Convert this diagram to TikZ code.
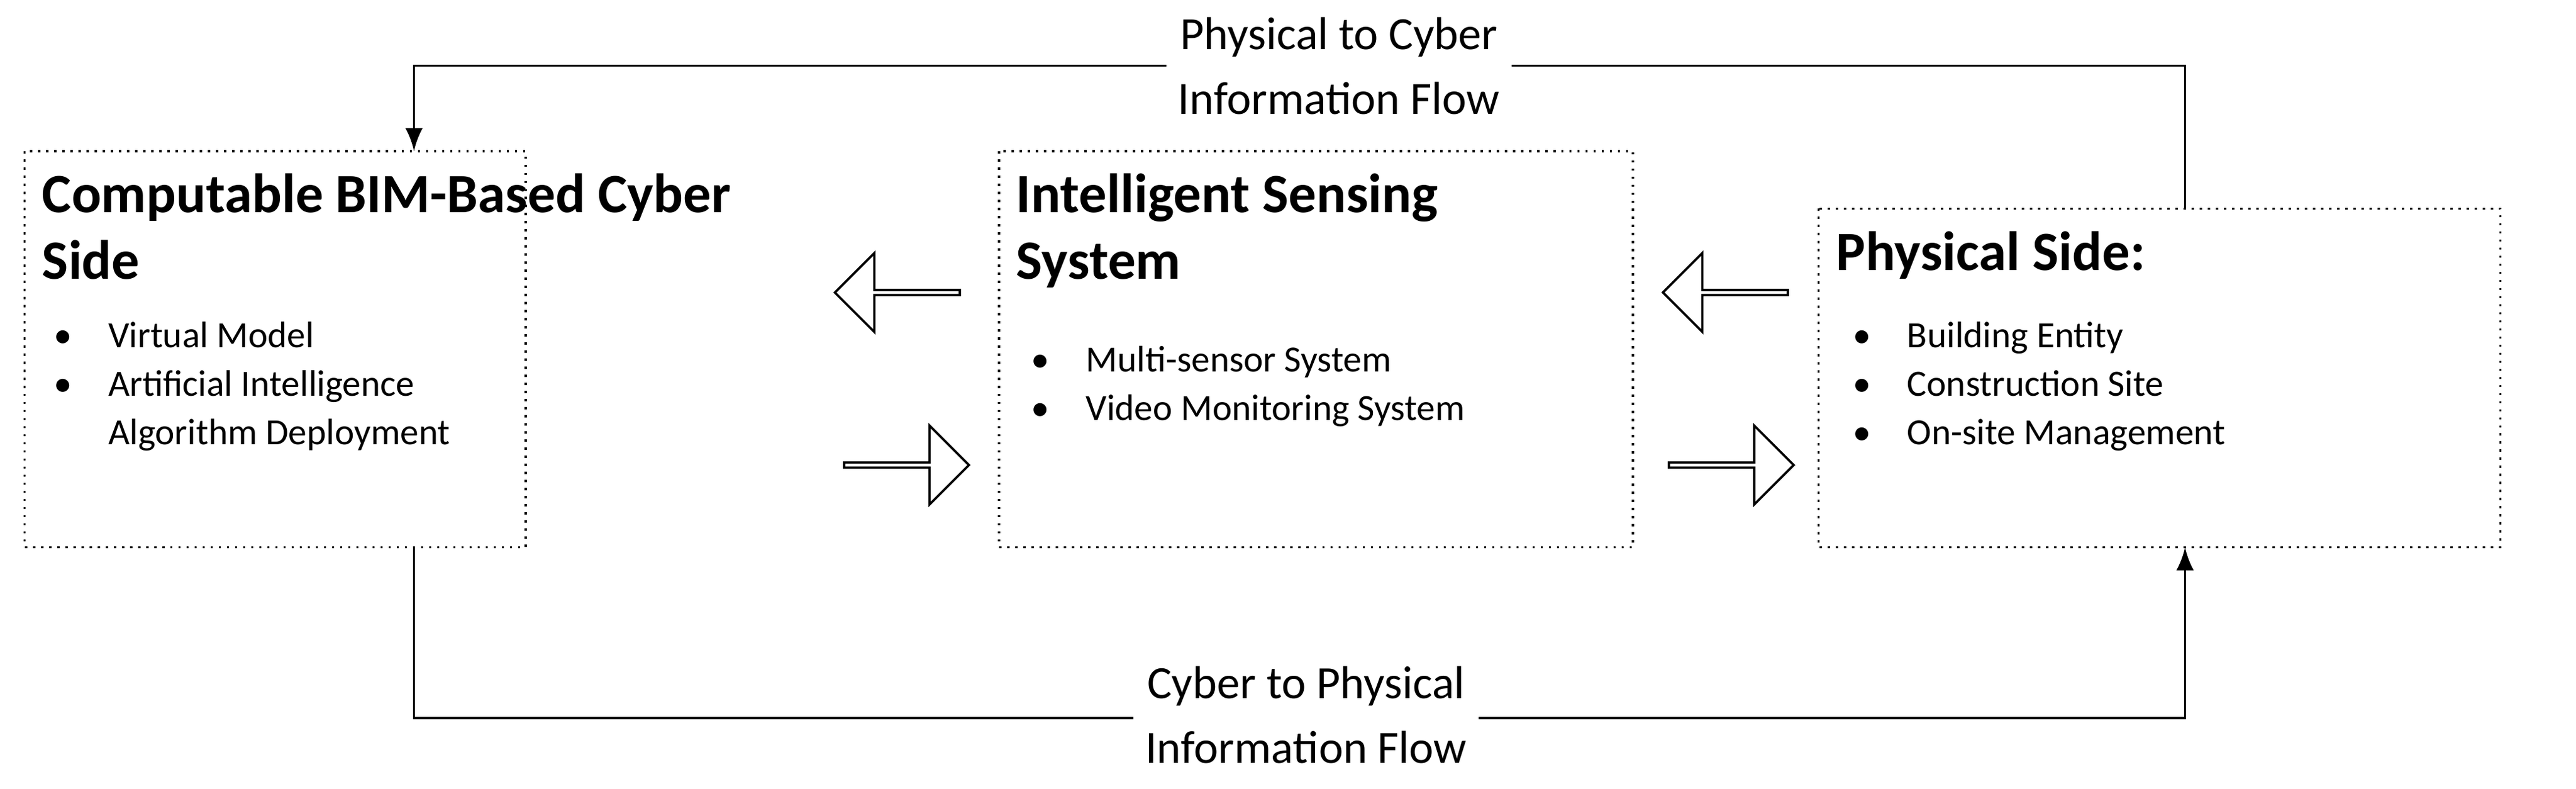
\documentclass[tikz,border=0pt]{standalone}
\usepackage{fontspec}
\setmainfont{Carlito}
\usetikzlibrary{shapes.arrows,positioning}
\begin{document}
\begin{tikzpicture}
[>=latex, y=-1cm,
 panel/.style={draw,densely dotted,thin},
 head/.style={anchor=north west,align=left,font=\fontsize{9.6}{11.5}\selectfont\bfseries,inner sep=0pt},
 items/.style={anchor=north west,align=left,font=\fontsize{6.4}{8.4}\selectfont,inner sep=0pt},
 flowtxt/.style={fill=white,align=center,font=\fontsize{8}{11.2}\selectfont,inner sep=2pt},
 hollow/.style={single arrow,draw,thin,minimum height=0.76cm,minimum width=0.48cm,single arrow head extend=0.1cm,inner sep=0pt}]
\useasboundingbox (0,0) rectangle (15.68,4.8);

% the three panels
\draw[panel] (0.15,0.92) coordinate (cyberNW) rectangle (3.20,3.33) coordinate (cyberSE);
\draw[panel] (6.08,0.92) coordinate (senseNW) rectangle (9.94,3.33);
\draw[panel] (11.07,1.27) coordinate (physNW) rectangle (15.22,3.33);

% panel texts
\node[head] (cyberT) at (0.25,1.05) {Computable BIM-Based Cyber\\Side};
\node[items] (cyberL) at (0.32,1.95) {\textbullet\hspace{2.2mm}Virtual Model\\\textbullet\hspace{2.2mm}Artificial Intelligence\\\hphantom{\textbullet}\hspace{2.2mm}Algorithm Deployment};
\node[head] (senseT) at (6.18,1.05) {Intelligent Sensing\\System};
\node[items] (senseL) at (6.27,2.10) {\textbullet\hspace{2.2mm}Multi-sensor System\\\textbullet\hspace{2.2mm}Video Monitoring System};
\node[head] (physT) at (11.17,1.40) {Physical Side:};
\node[items] (physL) at (11.27,1.95) {\textbullet\hspace{2.2mm}Building Entity\\\textbullet\hspace{2.2mm}Construction Site\\\textbullet\hspace{2.2mm}On-site Management};

% hollow arrows between panels
\node[hollow,shape border rotate=180] (a1) at (5.47,1.78) {};
\node[hollow] (a2) at (5.51,2.83) {};
\node[hollow,shape border rotate=180] (a3) at (10.51,1.78) {};
\node[hollow] (a4) at (10.53,2.83) {};

% information flows
\coordinate (pTop) at (13.30,1.27);
\coordinate (cTop) at (2.52,0.92);
\coordinate (cBot) at (2.52,3.33);
\coordinate (pBot) at (13.30,3.33);
\draw[->] (pTop) |- (2.52,0.40) -- (cTop);
\draw[->] (cBot) |- (13.30,4.37) -- (pBot);
\node[flowtxt] (upFlow) at (8.15,0.40) {Physical to Cyber\\Information Flow};
\node[flowtxt] (downFlow) at (7.95,4.35) {Cyber to Physical\\Information Flow};
\end{tikzpicture}
\end{document}
